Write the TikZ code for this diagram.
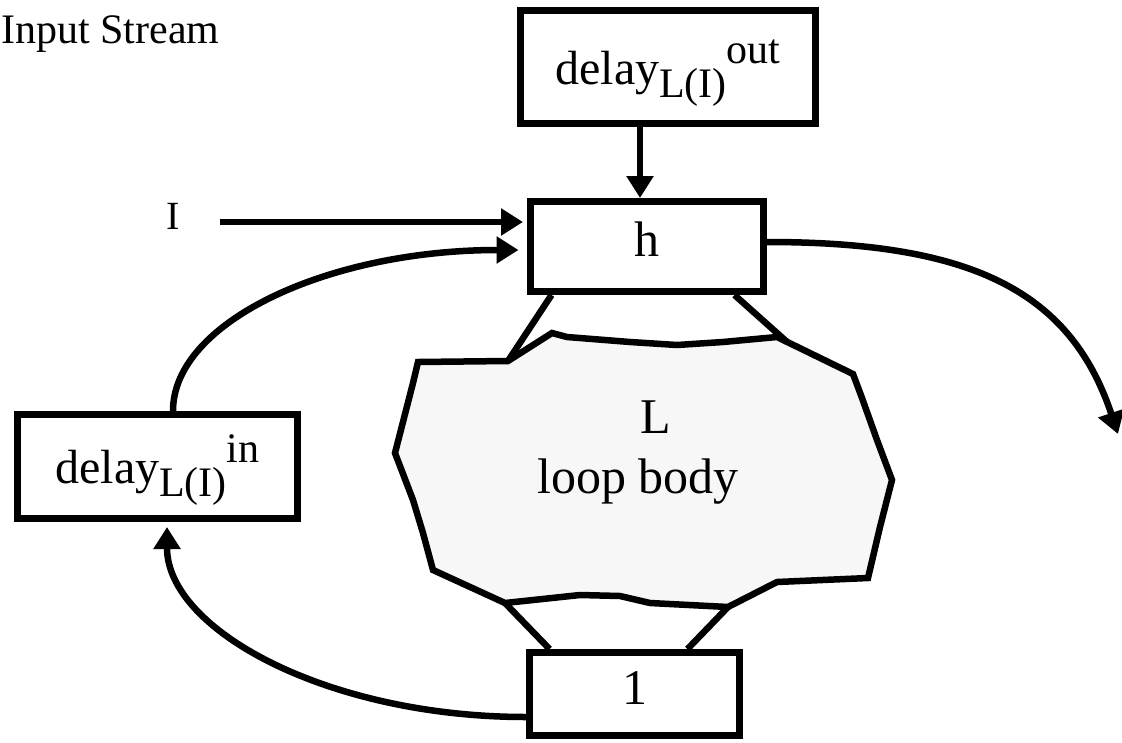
\documentclass[tikz,border=0pt]{standalone}
\usepackage{fontspec}
\setmainfont{Liberation Serif}
\usetikzlibrary{arrows.meta,calc}
\definecolor{bodyfill}{RGB}{247,247,247}
% delay label with lowered L(I) and a raised tag (in / out)
\newcommand{\delaylabel}[1]{{\fontsize{48}{52}\selectfont delay}\raisebox{-13pt}{\fontsize{42}{46}\selectfont L(I)}\raisebox{21pt}{\fontsize{42}{46}\selectfont #1}}
\begin{document}
\begin{tikzpicture}[x=1pt,y=-1pt,
  box/.style={draw, line width=7pt, rectangle, inner sep=0pt, fill=white},
  bigtext/.style={font=\fontsize{50}{56}\selectfont},
  wire/.style={line width=6.5pt},
  arr/.style={wire, -{Triangle[length=22pt,width=26pt]}},
  delaybox/.style={box, text height=50pt, text depth=16pt},
  plainbox/.style={box, bigtext, text height=40pt, text depth=20pt}]
\fill[white] (0,0) rectangle (1122,742);
\useasboundingbox (0,0) rectangle (1122,742);

% loop body outline
\draw[wire, fill=bodyfill, line join=miter]
  (418,362) -- (508,361) coordinate (ctl) -- (552,333) -- (567,337) -- (630,342)
  -- (677,345) -- (723,342) -- (777,337) -- coordinate[pos=0.13] (ctr) (853,374)
  -- (862,398) -- (877,440) -- (892,480) -- (880,527) -- (868,578) -- (777,582)
  -- (728,607) coordinate (cbr) -- (650,603) -- (620,596) -- (580,595)
  -- (505,603) coordinate (cbl) -- (433,570) -- (423,533) -- (413,500)
  -- (395,453) -- (413,383) -- cycle;
\node[anchor=base, inner sep=0pt, bigtext] (Ltxt) at (656,433) {L};
\node[anchor=base, inner sep=0pt, bigtext] (bodytxt) at (638,493) {loop body};

% boxes
\node[delaybox, minimum width=295pt, minimum height=113pt] (dout) at (668,67) {\delaylabel{out}};
\node[plainbox, minimum width=233pt, minimum height=90pt] (h) at (647,246.5) {h};
\node[plainbox, minimum width=210pt, minimum height=83pt] (one) at (634.5,694) {1};
\node[delaybox, minimum width=280pt, minimum height=104pt] (dIn) at (157.5,466.5) {\delaylabel{in}};

% labels
\node[anchor=base west, inner sep=0pt, font=\fontsize{42}{46}\selectfont] (title) at (1,43) {Input Stream};
\node[anchor=base, inner sep=0pt, font=\fontsize{40}{44}\selectfont] (inlab) at (173,229) {I};

% connectors
\coordinate (xcol) at (640,0);
\draw[arr] (dout.south -| xcol) -- (h.north -| xcol);
\coordinate (istart) at (220,222);
\draw[arr, shorten >=4pt] (istart) -- (istart -| h.west);
\draw[arr] ($(dIn.north)+(15.5,0)$) .. controls (173,322) and (328,250) .. ($(h.west)+(-8.5,3.5)$);
\coordinate (rend) at (1118,434);
\draw[arr] ($(h.east)+(0,-4.5)$) .. controls (970,242) and (1070,290) .. (rend);
\draw[arr] ($(one.west)+(0,23)$) .. controls (328,717) and (167,630) .. ($(dIn.south)+(9.5,5)$);

\draw[wire] ($(h.south west)+(24.5,0)$) -- (ctl);
\draw[wire] ($(h.south east)+(-32.5,0)$) -- (ctr);
\draw[wire] (cbl) -- ($(one.north west)+(23.5,0)$);
\draw[wire] (cbr) -- ($(one.north east)+(-55.5,0)$);
\end{tikzpicture}
\end{document}
